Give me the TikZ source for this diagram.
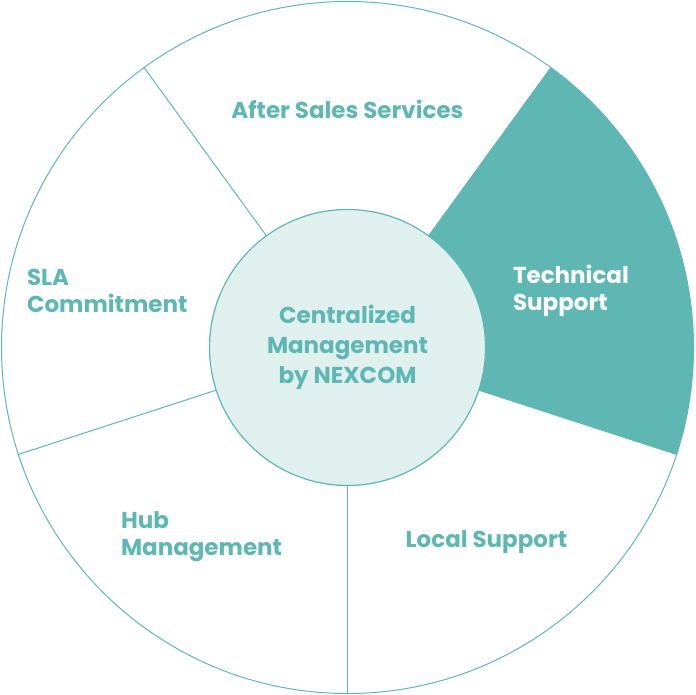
\documentclass[tikz,border=0pt]{standalone}
\usepackage{fontspec}
\setmainfont{Poppins}
\definecolor{teal}{HTML}{5FB7B4}
\definecolor{paleteal}{HTML}{DFF0EF}
\tikzset{
  sector label/.style={text=teal,font=\bfseries\fontsize{23}{27}\selectfont,align=left},
  hub/.style={circle,draw=teal,fill=paleteal,line width=1.2pt,minimum size=276pt,inner sep=0pt,
    text=teal,font=\bfseries\fontsize{23}{30}\selectfont,align=center},
}
\begin{document}
\begin{tikzpicture}[x=1pt,y=1pt]
  \useasboundingbox (-347.5,-347.5) rectangle (347.5,347.5);
  % highlighted sector
  \fill[teal] (0,0) -- (-18:346) arc (-18:54:346) -- cycle;
  \draw[teal,line width=1pt] (0,0) circle (346);
  \foreach \a in {54,-18,-90,198,126}
    \draw[teal,line width=1pt] (0,0) -- (\a:346);
  \node[hub] (hub) at (0,0) {Centralized\\Management\\by NEXCOM};
  \node[sector label,align=center] (after) at (0,238) {After Sales Services};
  \node[sector label,anchor=west] (sla) at (-324,57) {SLA\\Commitment};
  \node[sector label,anchor=west] (tech) at (162,57) [text=white] {Technical\\Support};
  \node[sector label,anchor=west] (hubm) at (-230,-189) {Hub\\Management};
  \node[sector label,align=center] (local) at (139,-195) {Local Support};
\end{tikzpicture}
\end{document}
